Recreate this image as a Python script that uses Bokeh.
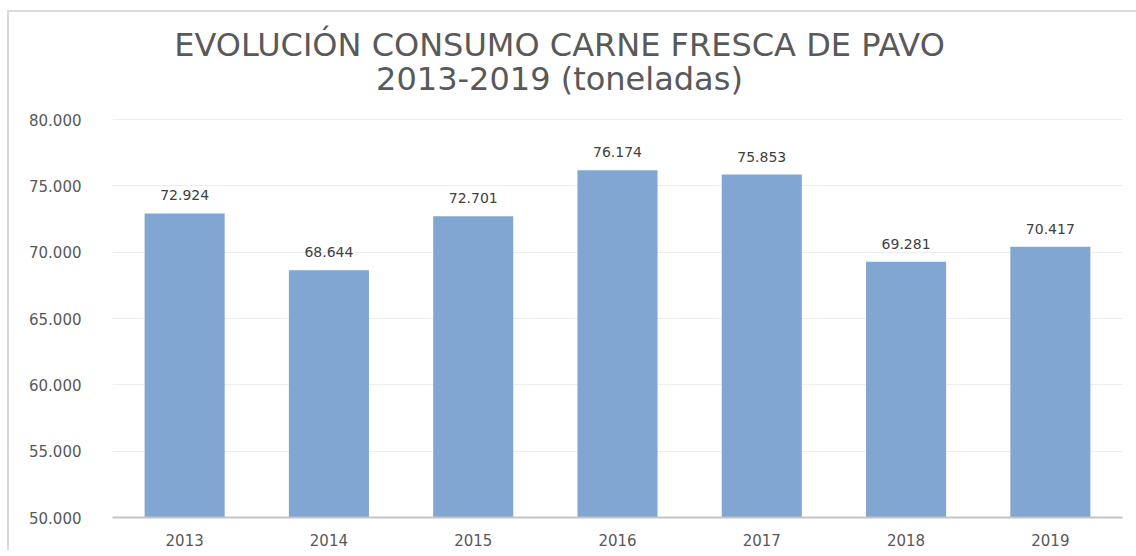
from bokeh.plotting import figure
from bokeh.models import ColumnDataSource, Label, LabelSet, FixedTicker, Range1d
from bokeh.core.properties import value
from bokeh.embed import file_html
from bokeh.resources import INLINE

# ---- data ----
years = ["2013", "2014", "2015", "2016", "2017", "2018", "2019"]
values = [72924, 68644, 72701, 76174, 75853, 69281, 70417]
value_labels = ["72.924", "68.644", "72.701", "76.174", "75.853", "69.281", "70.417"]
y_ticks = [50000, 55000, 60000, 65000, 70000, 75000, 80000]
y_tick_labels = ["50.000", "55.000", "60.000", "65.000", "70.000", "75.000", "80.000"]
title_line1 = "EVOLUCIÓN CONSUMO CARNE FRESCA DE PAVO"
title_line2 = "2013-2019 (toneladas)"

src = ColumnDataSource(dict(year=years, value=values, label=value_labels))

# frame extends to the top of the canvas; the upper strip holds the title
p = figure(
    width=1136, height=550,
    x_range=years, y_range=Range1d(50000, 88970),
    output_backend="svg", toolbar_location=None,
    min_border_left=112, min_border_right=14,
    min_border_top=0, min_border_bottom=33,
)
p.outline_line_color = None
p.background_fill_color = None
p.border_fill_color = None
p.styles = {
    "background-image": "linear-gradient(#D9D9D9, #D9D9D9), linear-gradient(#D9D9D9, #D9D9D9)",
    "background-size": "1140px 2px, 2px 560px",
    "background-position": "7px 10px, 7px 10px",
    "background-repeat": "no-repeat",
}

p.vbar(x="year", top="value", bottom=50000, width=0.555, source=src,
       fill_color="#82A6D2", line_color=None)

labels = LabelSet(x="year", y="value", text="label", source=src,
                  text_align="center", text_baseline="middle", y_offset=18,
                  text_font=value("DejaVu Sans"), text_font_size=value("14px"),
                  text_color=value("#404040"))
p.add_layout(labels)

# axes
p.yaxis.ticker = FixedTicker(ticks=y_ticks)
p.yaxis.major_label_overrides = {t: l for t, l in zip(y_ticks, y_tick_labels)}
p.yaxis.axis_line_color = None
p.yaxis.major_tick_line_color = None
p.yaxis.minor_tick_line_color = None
p.yaxis.major_label_standoff = 25
p.yaxis.major_label_text_font = "DejaVu Sans"
p.yaxis.major_label_text_font_size = "15px"
p.yaxis.major_label_text_color = "#595959"

p.xaxis.axis_line_color = "#C4C4C4"
p.xaxis.axis_line_width = 2
p.xaxis.major_tick_line_color = None
p.xaxis.minor_tick_line_color = None
p.xaxis.major_label_standoff = 10
p.xaxis.major_label_text_font = "DejaVu Sans"
p.xaxis.major_label_text_font_size = "15px"
p.xaxis.major_label_text_color = "#595959"

p.xgrid.grid_line_color = None
p.ygrid.grid_line_color = "#EEEEEE"
p.ygrid.grid_line_width = 1

# title (two centred lines)
for txt, ys in ((title_line1, 85580), (title_line2, 83090)):
    p.add_layout(Label(x=3.098, y=ys, text=txt,
                       text_align="center", text_baseline="middle",
                       text_font="DejaVu Sans", text_font_size="32px",
                       text_color="#595959"))

open("out.html", "w").write(file_html(p, INLINE))
